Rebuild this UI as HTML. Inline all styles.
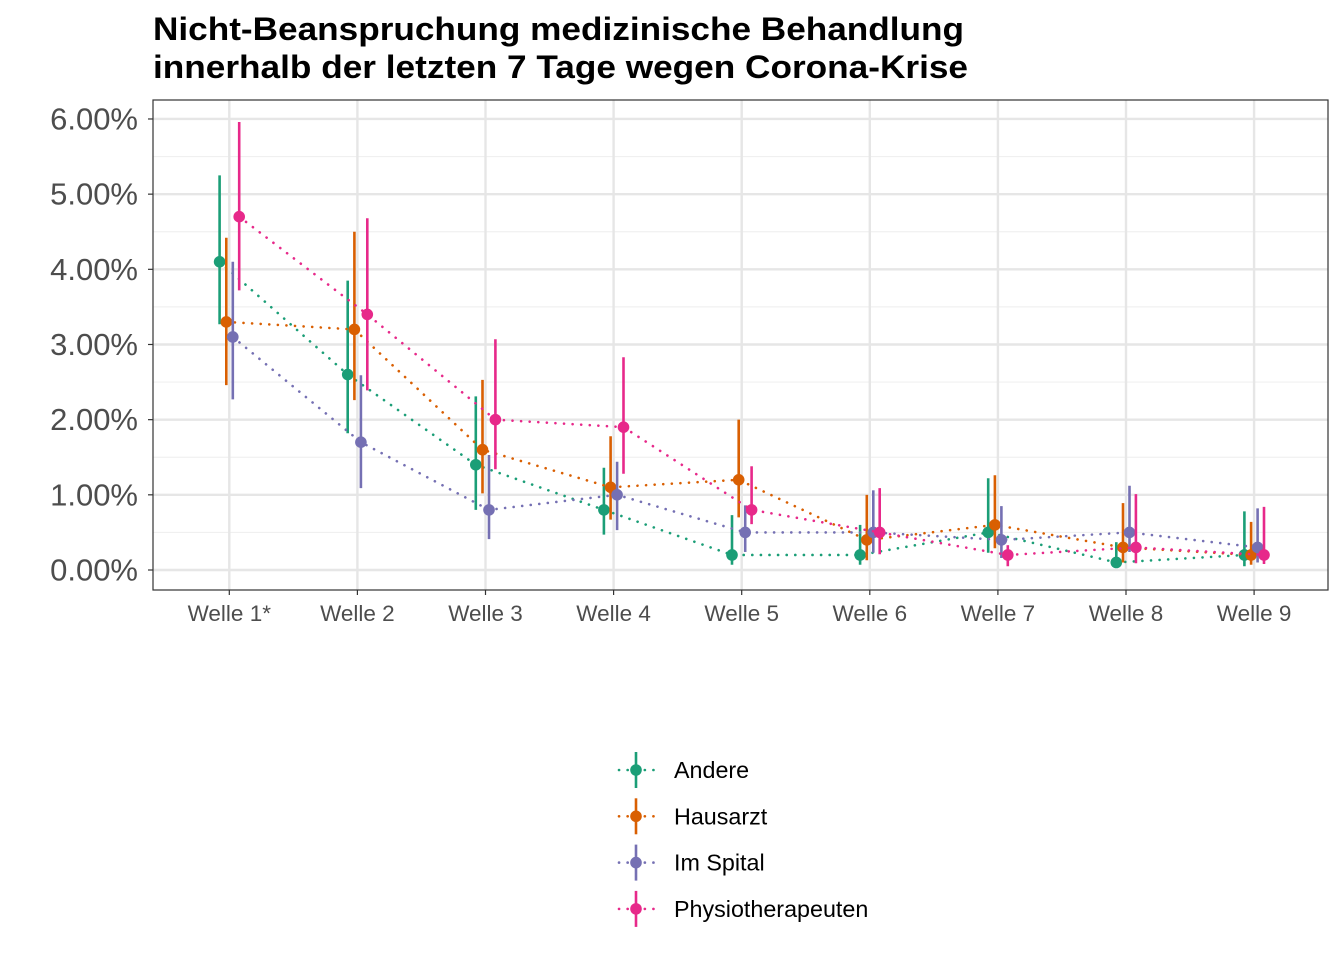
<!DOCTYPE html>
<html><head><meta charset="utf-8"><style>
body{margin:0;background:#fff;}
svg text{font-family:"Liberation Sans",Arial,sans-serif;}
</style></head><body>
<svg id="chart" width="1344" height="960" xmlns="http://www.w3.org/2000/svg">
<text x="153" y="40" font-size="32" font-weight="bold" fill="#000" textLength="811" lengthAdjust="spacingAndGlyphs">Nicht-Beanspruchung medizinische Behandlung</text>
<text x="153" y="78" font-size="32" font-weight="bold" fill="#000" textLength="815" lengthAdjust="spacingAndGlyphs">innerhalb der letzten 7 Tage wegen Corona-Krise</text>
<g id="grid"></g><g id="marks"></g><g id="axes"></g><g id="legend"></g>
</svg>
<script>
const categories=["Welle 1*","Welle 2","Welle 3","Welle 4","Welle 5","Welle 6","Welle 7","Welle 8","Welle 9"];
const seriesNames=["Andere","Hausarzt","Im Spital","Physiotherapeuten"];
const colors=["#1B9E77","#D95F02","#7570B3","#E7298A"];
const andere=[4.1,2.6,1.4,0.8,0.2,0.2,0.5,0.1,0.2];
const andereLo=[3.27,1.82,0.8,0.47,0.07,0.07,0.23,0.03,0.05];
const andereHi=[5.25,3.85,2.31,1.36,0.73,0.6,1.22,0.37,0.78];
const hausarzt=[3.3,3.2,1.6,1.1,1.2,0.4,0.6,0.3,0.2];
const hausarztLo=[2.46,2.26,1.02,0.67,0.7,0.13,0.29,0.1,0.07];
const hausarztHi=[4.42,4.5,2.53,1.78,2.0,1.0,1.26,0.89,0.64];
const spital=[3.1,1.7,0.8,1.0,0.5,0.5,0.4,0.5,0.3];
const spitalLo=[2.27,1.09,0.41,0.53,0.24,0.23,0.16,0.24,0.1];
const spitalHi=[4.1,2.59,1.53,1.44,0.86,1.06,0.85,1.12,0.82];
const physio=[4.7,3.4,2.0,1.9,0.8,0.5,0.2,0.3,0.2];
const physioLo=[3.72,2.39,1.34,1.28,0.61,0.21,0.05,0.09,0.08];
const physioHi=[5.96,4.68,3.07,2.83,1.38,1.09,0.33,1.01,0.84];
const yTicks=[0,1,2,3,4,5,6];
const yTickLabels=["0.00%","1.00%","2.00%","3.00%","4.00%","5.00%","6.00%"];

const vals=[andere,hausarzt,spital,physio],los=[andereLo,hausarztLo,spitalLo,physioLo],his=[andereHi,hausarztHi,spitalHi,physioHi];
const NS="http://www.w3.org/2000/svg";
const L=153,R=1328,T=100,B=590;
const y=v=>570-v*75.17;
const x=i=>229.3+i*128.1;
const dodge=[-9.7,-3,3.5,9.9];
function mk(tag,attrs,parent){const e=document.createElementNS(NS,tag);for(const k in attrs)e.setAttribute(k,attrs[k]);parent.appendChild(e);return e;}
const grid=document.getElementById('grid'),marks=document.getElementById('marks'),axes=document.getElementById('axes'),legend=document.getElementById('legend');
for(let t=0;t<6;t++){const g=mk('line',{x1:L,x2:R,y1:y(t+0.5),y2:y(t+0.5),stroke:'#F0F0F0','stroke-width':1.2},grid);

}
yTicks.forEach((t,i)=>{const g=mk('line',{x1:L,x2:R,y1:y(t),y2:y(t),stroke:'#E6E6E6','stroke-width':2.4},grid);


const tk=mk('line',{x1:L-5,x2:L,y1:y(t),y2:y(t),stroke:'#333','stroke-width':1.2},axes);


const tx=mk('text',{x:L-15,y:y(t)+10.5,'text-anchor':'end','font-size':31,fill:'#4D4D4D'},axes);tx.textContent=yTickLabels[i];

});
categories.forEach((c,i)=>{const g=mk('line',{x1:x(i),x2:x(i),y1:T,y2:B,stroke:'#E6E6E6','stroke-width':2.4},grid);


const tk=mk('line',{x1:x(i),x2:x(i),y1:B,y2:B+5,stroke:'#333','stroke-width':1.2},axes);


const tx=mk('text',{x:x(i),y:621,'text-anchor':'middle','font-size':22.5,fill:'#4D4D4D'},axes);tx.textContent=c;

});
const border=mk('rect',{x:L,y:T,width:R-L,height:B-T,fill:'none',stroke:'#333','stroke-width':1.2},axes);


vals.forEach((v,s)=>{const g=mk('g',{},marks);


const pts=v.map((d,i)=>(x(i)+dodge[s])+','+y(d)).join(' ');
const pl=mk('polyline',{points:pts,fill:'none',stroke:colors[s],'stroke-width':2.6,'stroke-dasharray':'0.1 8.5','stroke-linecap':'round'},g);


v.forEach((d,i)=>{const cx=x(i)+dodge[s];
const er=mk('line',{x1:cx,x2:cx,y1:y(his[s][i]),y2:y(los[s][i]),stroke:colors[s],'stroke-width':2.6},g);


const p=mk('circle',{cx:cx,cy:y(d),r:5.8,fill:colors[s]},g);

});});
seriesNames.forEach((n,s)=>{const ly=770+s*46.3;const g=mk('g',{},legend);


const ln=mk('line',{x1:619,x2:654,y1:ly,y2:ly,stroke:colors[s],'stroke-width':2.6,'stroke-dasharray':'0.1 8.5','stroke-linecap':'round'},g);


const vl=mk('line',{x1:636,x2:636,y1:ly-18,y2:ly+18,stroke:colors[s],'stroke-width':2.6},g);


const c=mk('circle',{cx:636,cy:ly,r:5.8,fill:colors[s]},g);


const t=mk('text',{x:674,y:ly+8,'font-size':23.3,fill:'#000'},g);t.textContent=n;

});
</script>
</body></html>
